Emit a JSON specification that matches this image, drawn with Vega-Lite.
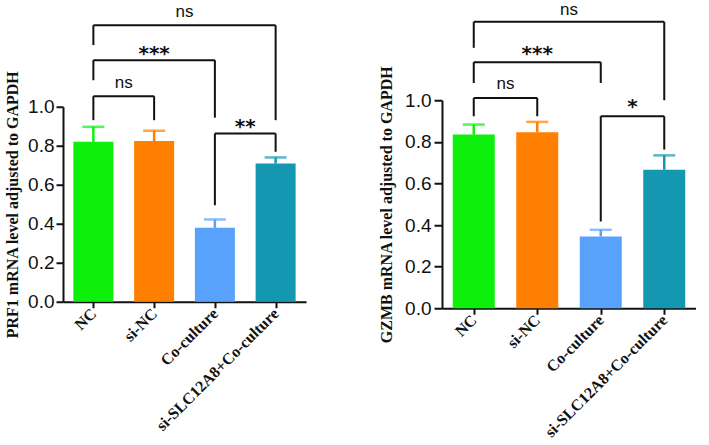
{
  "$schema": "https://vega.github.io/schema/vega-lite/v6.json",
  "background": "white",
  "padding": {"left": 4, "top": 0, "right": 0, "bottom": 0},
  "spacing": 72,
  "center": true,
  "config": {
    "view": {"stroke": null},
    "axis": {
      "grid": false,
      "domainColor": "#111111",
      "domainWidth": 2,
      "tickColor": "#111111",
      "tickWidth": 2,
      "labelColor": "#111111",
      "titleColor": "#111111",
      "labelOverlap": false
    },
    "axisX": {
      "labelAngle": -45,
      "labelAlign": "right",
      "labelBaseline": "middle",
      "labelFont": "Liberation Serif",
      "labelFontWeight": "bold",
      "labelFontSize": 16,
      "labelPadding": 3,
      "tickSize": 6,
      "title": null
    },
    "axisY": {
      "labelFont": "Liberation Sans",
      "labelFontSize": 19,
      "labelPadding": 2,
      "tickSize": 7,
      "tickCount": 10,
      "titleFont": "Liberation Serif",
      "titleFontWeight": "bold",
      "titleFontSize": 16,
      "titlePadding": 7
    }
  },
  "datasets": {
    "prf1": [
      {"group": "NC", "mean": 0.82, "upper": 0.897},
      {"group": "si-NC", "mean": 0.824, "upper": 0.877},
      {"group": "Co-culture", "mean": 0.379, "upper": 0.422},
      {"group": "si-SLC12A8+Co-culture", "mean": 0.709, "upper": 0.74}
    ],
    "gzmb": [
      {"group": "NC", "mean": 0.835, "upper": 0.883},
      {"group": "si-NC", "mean": 0.846, "upper": 0.896},
      {"group": "Co-culture", "mean": 0.345, "upper": 0.377},
      {"group": "si-SLC12A8+Co-culture", "mean": 0.666, "upper": 0.735}
    ],
    "prf1_lines": [
      {"from": "NC", "to": "si-SLC12A8+Co-culture", "y_start": 1.418, "y_end": 1.418},
      {"from": "NC", "to": "NC", "y_start": 1.316, "y_end": 1.418},
      {"from": "si-SLC12A8+Co-culture", "to": "si-SLC12A8+Co-culture", "y_start": 0.931, "y_end": 1.418},
      {"from": "NC", "to": "Co-culture", "y_start": 1.239, "y_end": 1.239},
      {"from": "NC", "to": "NC", "y_start": 1.136, "y_end": 1.239},
      {"from": "Co-culture", "to": "Co-culture", "y_start": 0.944, "y_end": 1.239},
      {"from": "NC", "to": "si-NC", "y_start": 1.054, "y_end": 1.054},
      {"from": "NC", "to": "NC", "y_start": 0.931, "y_end": 1.054},
      {"from": "si-NC", "to": "si-NC", "y_start": 0.931, "y_end": 1.054},
      {"from": "Co-culture", "to": "si-SLC12A8+Co-culture", "y_start": 0.863, "y_end": 0.863},
      {"from": "Co-culture", "to": "Co-culture", "y_start": 0.495, "y_end": 0.863},
      {"from": "si-SLC12A8+Co-culture", "to": "si-SLC12A8+Co-culture", "y_start": 0.769, "y_end": 0.863}
    ],
    "prf1_sig": [
      {"at": "si-NC/Co-culture", "y": 1.462, "label": "ns"},
      {"at": "si-NC", "y": 1.241, "label": "***"},
      {"at": "NC/si-NC", "y": 1.097, "label": "ns"},
      {"at": "Co-culture/si-SLC12A8+Co-culture", "y": 0.866, "label": "**"}
    ],
    "gzmb_lines": [
      {"from": "NC", "to": "si-SLC12A8+Co-culture", "y_start": 1.377, "y_end": 1.377},
      {"from": "NC", "to": "NC", "y_start": 1.252, "y_end": 1.377},
      {"from": "si-SLC12A8+Co-culture", "to": "si-SLC12A8+Co-culture", "y_start": 1.0, "y_end": 1.377},
      {"from": "NC", "to": "Co-culture", "y_start": 1.183, "y_end": 1.183},
      {"from": "NC", "to": "NC", "y_start": 1.083, "y_end": 1.183},
      {"from": "Co-culture", "to": "Co-culture", "y_start": 1.083, "y_end": 1.183},
      {"from": "NC", "to": "si-NC", "y_start": 1.011, "y_end": 1.011},
      {"from": "NC", "to": "NC", "y_start": 0.923, "y_end": 1.011},
      {"from": "si-NC", "to": "si-NC", "y_start": 0.923, "y_end": 1.011},
      {"from": "Co-culture", "to": "si-SLC12A8+Co-culture", "y_start": 0.923, "y_end": 0.923},
      {"from": "Co-culture", "to": "Co-culture", "y_start": 0.417, "y_end": 0.923},
      {"from": "si-SLC12A8+Co-culture", "to": "si-SLC12A8+Co-culture", "y_start": 0.763, "y_end": 0.923}
    ],
    "gzmb_sig": [
      {"at": "si-NC/Co-culture", "y": 1.41, "label": "ns"},
      {"at": "si-NC", "y": 1.192, "label": "***"},
      {"at": "NC/si-NC", "y": 1.056, "label": "ns"},
      {"at": "Co-culture/si-SLC12A8+Co-culture", "y": 0.941, "label": "*"}
    ]
  },
  "hconcat": [
    {
      "width": 243,
      "height": 195,
      "encoding": {
        "x": {"type": "nominal",
              "scale": {"type": "point", "padding": 1.05,
                        "domain": ["NC", "NC/si-NC", "si-NC", "si-NC/Co-culture", "Co-culture", "Co-culture/si-SLC12A8+Co-culture", "si-SLC12A8+Co-culture"]},
              "axis": {"values": ["NC", "si-NC", "Co-culture", "si-SLC12A8+Co-culture"]}}
      },
      "layer": [
        {
          "data": {"name": "prf1"},
          "mark": {"type": "bar", "width": 40},
          "encoding": {
            "x": {"field": "group"},
            "y": {"field": "mean", "type": "quantitative",
                  "scale": {"domain": [0, 1], "nice": false},
                  "axis": {"values": [0, 0.2, 0.4, 0.6, 0.8, 1.0], "tickCount": 10, "format": ".1f", "labelOverlap": false, "title": "PRF1 mRNA level adjusted to GAPDH"}},
            "color": {"field": "group", "type": "nominal", "legend": null,
                      "scale": {"domain": ["NC", "si-NC", "Co-culture", "si-SLC12A8+Co-culture"], "range": ["#0cf00c", "#ff7f00", "#58a2fb", "#1497b1"]}}
          }
        },
        {
          "data": {"name": "prf1"},
          "mark": {"type": "rule", "strokeWidth": 2.5},
          "encoding": {
            "x": {"field": "group"},
            "y": {"field": "mean", "type": "quantitative"},
            "y2": {"field": "upper"},
            "color": {"field": "group", "type": "nominal", "legend": null}
          }
        },
        {
          "data": {"name": "prf1"},
          "mark": {"type": "tick", "size": 22, "thickness": 2.5},
          "encoding": {
            "x": {"field": "group"},
            "y": {"field": "upper", "type": "quantitative"},
            "color": {"field": "group", "type": "nominal", "legend": null}
          }
        },
        {
          "data": {"name": "prf1_lines"},
          "mark": {"type": "rule", "color": "#111111", "strokeWidth": 2},
          "encoding": {
            "x": {"field": "from"},
            "x2": {"field": "to"},
            "y": {"field": "y_start", "type": "quantitative"},
            "y2": {"field": "y_end"}
          }
        },
        {
          "data": {"name": "prf1_sig"},
          "transform": [{"filter": "datum.label === 'ns'"}],
          "mark": {"type": "text", "font": "Liberation Sans", "fontSize": 17, "baseline": "alphabetic", "color": "#111111"},
          "encoding": {
            "x": {"field": "at"},
            "y": {"field": "y", "type": "quantitative"},
            "text": {"field": "label"}
          }
        },
        {
          "data": {"name": "prf1_sig"},
          "transform": [{"filter": "datum.label !== 'ns'"}],
          "mark": {"type": "text", "font": "DejaVu Sans", "fontWeight": "bold", "fontSize": 20, "baseline": "alphabetic", "color": "#111111"},
          "encoding": {
            "x": {"field": "at"},
            "y": {"field": "y", "type": "quantitative"},
            "text": {"field": "label"}
          }
        }
      ]
    },
    {
      "width": 254,
      "height": 208,
      "encoding": {
        "x": {"type": "nominal",
              "scale": {"type": "point", "padding": 1.05,
                        "domain": ["NC", "NC/si-NC", "si-NC", "si-NC/Co-culture", "Co-culture", "Co-culture/si-SLC12A8+Co-culture", "si-SLC12A8+Co-culture"]},
              "axis": {"values": ["NC", "si-NC", "Co-culture", "si-SLC12A8+Co-culture"]}}
      },
      "layer": [
        {
          "data": {"name": "gzmb"},
          "mark": {"type": "bar", "width": 42},
          "encoding": {
            "x": {"field": "group"},
            "y": {"field": "mean", "type": "quantitative",
                  "scale": {"domain": [0, 1], "nice": false},
                  "axis": {"values": [0, 0.2, 0.4, 0.6, 0.8, 1.0], "tickCount": 10, "format": ".1f", "labelOverlap": false, "title": "GZMB mRNA level adjusted to GAPDH", "titlePadding": 10, "labelPadding": 3, "tickSize": 8}},
            "color": {"field": "group", "type": "nominal", "legend": null,
                      "scale": {"domain": ["NC", "si-NC", "Co-culture", "si-SLC12A8+Co-culture"], "range": ["#0cf00c", "#ff7f00", "#58a2fb", "#1497b1"]}}
          }
        },
        {
          "data": {"name": "gzmb"},
          "mark": {"type": "rule", "strokeWidth": 2.5},
          "encoding": {
            "x": {"field": "group"},
            "y": {"field": "mean", "type": "quantitative"},
            "y2": {"field": "upper"},
            "color": {"field": "group", "type": "nominal", "legend": null}
          }
        },
        {
          "data": {"name": "gzmb"},
          "mark": {"type": "tick", "size": 22, "thickness": 2.5},
          "encoding": {
            "x": {"field": "group"},
            "y": {"field": "upper", "type": "quantitative"},
            "color": {"field": "group", "type": "nominal", "legend": null}
          }
        },
        {
          "data": {"name": "gzmb_lines"},
          "mark": {"type": "rule", "color": "#111111", "strokeWidth": 2},
          "encoding": {
            "x": {"field": "from"},
            "x2": {"field": "to"},
            "y": {"field": "y_start", "type": "quantitative"},
            "y2": {"field": "y_end"}
          }
        },
        {
          "data": {"name": "gzmb_sig"},
          "transform": [{"filter": "datum.label === 'ns'"}],
          "mark": {"type": "text", "font": "Liberation Sans", "fontSize": 17, "baseline": "alphabetic", "color": "#111111"},
          "encoding": {
            "x": {"field": "at"},
            "y": {"field": "y", "type": "quantitative"},
            "text": {"field": "label"}
          }
        },
        {
          "data": {"name": "gzmb_sig"},
          "transform": [{"filter": "datum.label !== 'ns'"}],
          "mark": {"type": "text", "font": "DejaVu Sans", "fontWeight": "bold", "fontSize": 20, "baseline": "alphabetic", "color": "#111111"},
          "encoding": {
            "x": {"field": "at"},
            "y": {"field": "y", "type": "quantitative"},
            "text": {"field": "label"}
          }
        }
      ]
    }
  ]
}
